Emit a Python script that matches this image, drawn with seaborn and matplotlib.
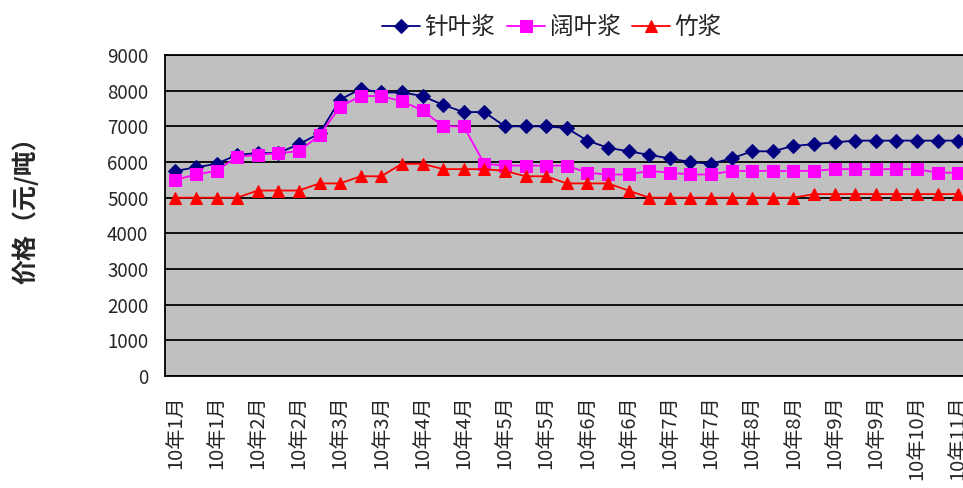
import numpy as np
import matplotlib
matplotlib.use("Agg")
import matplotlib.pyplot as plt
import seaborn as sns

# weekly prices, yuan/ton
needle = [5750, 5850, 5950, 6200, 6250, 6250, 6500, 6800, 7750, 8050,
          7950, 7950, 7850, 7600, 7400, 7400, 7000, 7000, 7000, 6950,
          6600, 6400, 6300, 6200, 6100, 6000, 5950, 6100, 6300, 6300,
          6450, 6500, 6550, 6600, 6600, 6600, 6600, 6600, 6600]
broad = [5500, 5650, 5750, 6150, 6200, 6250, 6300, 6750, 7550, 7850,
         7850, 7700, 7450, 7000, 7000, 5950, 5900, 5900, 5900, 5900,
         5700, 5650, 5650, 5750, 5700, 5650, 5650, 5750, 5750, 5750,
         5750, 5750, 5800, 5800, 5800, 5800, 5800, 5700, 5700]
bamboo = [5000, 5000, 5000, 5000, 5200, 5200, 5200, 5400, 5400, 5600,
          5600, 5950, 5950, 5800, 5800, 5800, 5750, 5600, 5600, 5400,
          5400, 5400, 5200, 5000, 5000, 5000, 5000, 5000, 5000, 5000,
          5000, 5100, 5100, 5100, 5100, 5100, 5100, 5100, 5100]
tick_labels = ["10年1月", "10年1月", "10年2月", "10年2月", "10年3月", "10年3月",
               "10年4月", "10年4月", "10年5月", "10年5月", "10年6月", "10年6月",
               "10年7月", "10年7月", "10年8月", "10年8月", "10年9月", "10年9月",
               "10年10月", "10年11月"]
series_names = ["针叶浆", "阔叶浆", "竹浆"]

sns.set_style("white")
plt.rcParams['font.family'] = ['Noto Sans CJK SC', 'DejaVu Sans']

x = np.arange(len(needle))
fig = plt.figure(figsize=(9.63, 4.88), dpi=100)
unit = 20.6 / 963
ax = fig.add_axes([165 / 963, 1 - 376 / 488, unit * len(x), (376 - 55) / 488])
ax.set_facecolor("#C0C0C0")

sns.lineplot(x=x, y=needle, ax=ax, color="#000080", marker="D", markersize=7.5,
             markeredgecolor="#000080", linewidth=1.3, label=series_names[0])
sns.lineplot(x=x, y=broad, ax=ax, color="#FF00FF", marker="s", markersize=9,
             markeredgecolor="#FF00FF", linewidth=1.3, label=series_names[1])
sns.lineplot(x=x, y=bamboo, ax=ax, color="#FF0000", marker="^", markersize=9,
             markeredgecolor="#FF0000", linewidth=1.3, label=series_names[2])

ax.set_xlim(-0.5, len(x) - 0.5)
ax.set_ylim(0, 9000)
ax.set_yticks(range(0, 9001, 1000))
ax.yaxis.grid(True, color="black", linewidth=1.3)
ax.set_axisbelow(True)
ax.tick_params(axis="y", length=0, pad=12, labelsize=13.5)

ax.set_xticks(x[::2])
ax.set_xticklabels(tick_labels, rotation=90, fontsize=14.5)
ax.set_xticks(np.arange(-0.5, len(x), 1), minor=True)
ax.tick_params(axis="x", which="major", length=0, pad=14)
ax.tick_params(axis="x", which="minor", direction="in", length=7, width=1.2, color="black")

for s in ["left", "bottom", "top"]:
    ax.spines[s].set_color("black")
    ax.spines[s].set_linewidth(1.3)
ax.spines["right"].set_visible(False)

ax.set_xlabel("")
ax.set_ylabel("价格（元/吨）", fontsize=18, fontweight="bold")
ax.yaxis.set_label_coords((38 - 165) / (20.6 * len(x)), 0.535)

ax.legend(loc="center", bbox_to_anchor=(552 / 963, 1 - 28 / 488),
          bbox_transform=fig.transFigure, ncol=3, frameon=False, fontsize=17,
          handlelength=1.6, handletextpad=0.2, columnspacing=0.5, borderpad=0)

fig.savefig("out.png", dpi=100)
